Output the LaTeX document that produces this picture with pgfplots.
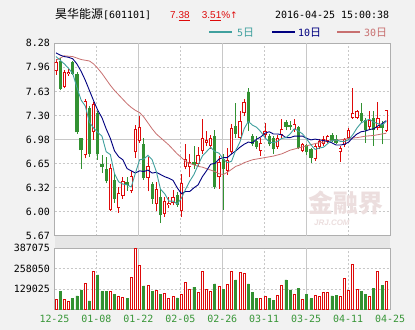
\documentclass[border=0pt]{standalone}
\usepackage{fontspec}
\usepackage{pgfplots}
\usepackage{pgfplotstable}
\pgfplotsset{compat=1.18}
\newfontfamily\cjk{Noto Sans CJK SC}
\newfontfamily\mono{DejaVu Sans Mono}
\newfontfamily\lsans{Liberation Sans}
\newfontfamily\djv{DejaVu Sans}
\definecolor{bgc}{RGB}{242,242,242}
\definecolor{bandc}{RGB}{230,230,230}
\definecolor{cred}{RGB}{222,10,10}
\definecolor{cgreen}{RGB}{50,145,50}
\definecolor{ma5c}{RGB}{64,160,158}
\definecolor{ma10c}{RGB}{0,0,128}
\definecolor{ma30c}{RGB}{200,112,112}
\definecolor{datec}{RGB}{56,150,56}
\definecolor{gridc}{RGB}{200,200,200}
\definecolor{bordc}{RGB}{175,175,175}
\definecolor{wmc}{RGB}{236,222,222}

\pgfplotstableread{
i o h l c v
0 7.91 8.07 7.85 8.02 65600
2 7.69 7.92 7.67 7.89 63000
3 7.86 7.93 7.84 7.89 53000
7 6.76 7.52 6.72 7.50 167000
9 7.08 7.49 6.97 7.46 243000
13 6.02 6.64 6.01 6.59 112000
15 6.04 6.33 5.98 6.25 85000
16 6.21 6.47 6.17 6.41 76000
18 6.27 6.55 6.25 6.48 203000
19 6.80 7.17 6.73 7.12 387000
20 6.96 7.30 6.93 7.15 281000
22 6.45 6.74 6.27 6.61 154000
24 6.10 6.40 6.00 6.31 123000
26 5.97 6.19 5.93 6.14 104000
27 6.08 6.20 6.04 6.11 70000
28 6.11 6.29 6.08 6.20 82000
30 6.00 6.51 5.93 6.38 97000
31 6.60 6.91 6.57 6.71 171000
32 6.60 6.78 6.46 6.67 127000
34 6.64 6.87 6.60 6.76 110000
35 6.82 7.25 6.78 7.00 243000
36 6.93 7.09 6.88 6.97 125000
37 6.89 7.04 6.85 7.00 116000
39 6.46 6.75 6.31 6.67 148000
41 6.55 6.86 6.50 6.70 161000
42 6.80 7.18 6.78 7.13 243000
44 7.00 7.36 6.98 7.22 237000
45 7.33 7.52 7.30 7.49 230000
49 6.82 7.00 6.75 6.93 66000
50 7.04 7.20 7.00 7.09 82000
53 6.87 7.04 6.85 7.00 89000
54 7.04 7.25 7.00 7.12 152000
57 7.11 7.25 7.08 7.18 97000
59 6.82 6.93 6.80 6.91 63000
62 6.71 6.92 6.69 6.89 89000
63 6.87 6.98 6.84 6.96 85000
64 6.91 7.02 6.89 6.98 110000
65 6.96 7.04 6.93 7.02 110000
68 6.80 6.89 6.67 6.86 85000
69 6.90 7.00 6.87 6.98 197000
70 6.99 7.13 6.97 7.11 123000
71 7.27 7.67 7.25 7.33 286000
72 7.27 7.38 7.25 7.36 127000
75 7.14 7.36 7.10 7.24 82000
77 7.13 7.48 7.10 7.27 243000
79 7.09 7.38 7.07 7.38 180000
}\redtab

\pgfplotstableread{
i o h l c v
1 8.04 8.08 7.64 7.66 116000
4 8.02 8.04 7.85 7.87 66000
5 7.86 7.89 7.05 7.07 85000
6 6.99 7.00 6.58 6.83 123000
8 7.40 7.43 6.74 6.78 53000
10 7.34 7.36 6.70 6.78 218000
11 6.64 6.77 6.52 6.60 112000
12 6.58 6.74 6.38 6.41 112000
14 6.42 6.52 6.12 6.17 97000
17 6.40 6.47 6.28 6.36 66000
21 6.92 7.00 6.43 6.45 148000
23 6.37 6.40 6.10 6.17 116000
25 6.20 6.30 5.84 5.95 97000
29 6.22 6.26 6.06 6.09 72000
33 6.67 6.89 6.58 6.63 140000
38 7.02 7.11 6.31 6.33 161000
40 6.71 6.78 6.02 6.58 127000
43 7.16 7.47 7.00 7.05 186000
46 7.62 7.68 7.09 7.20 161000
47 7.02 7.05 6.88 6.91 106000
48 6.96 7.02 6.84 6.87 68000
51 7.02 7.05 6.88 6.91 66000
52 7.00 7.02 6.78 6.84 55000
55 7.21 7.24 7.10 7.15 186000
56 7.17 7.22 7.11 7.14 123000
58 7.14 7.16 6.84 6.86 135000
60 6.90 6.92 6.76 6.80 97000
61 6.84 6.86 6.66 6.73 66000
66 7.03 7.06 6.94 6.96 85000
67 6.98 7.04 6.91 6.93 89000
73 7.34 7.47 7.20 7.22 114000
74 7.24 7.27 6.93 7.11 97000
76 7.27 7.36 6.89 7.10 135000
78 7.18 7.22 6.91 7.13 154000
}\greentab

\pgfplotsset{
  kbase/.style={
    scale only axis, xmin=-0.36, xmax=79.9,
    axis line style={draw=bordc, line width=0.8bp},
    axis background/.style={fill=white},
    major tick length=0pt,
    grid=major,
    grid style={draw=gridc, line width=0.7bp, dash pattern=on 2bp off 2bp},
    extra x tick style={grid style={solid}},
    extra y tick style={grid style={solid}},
    tick label style={font=\mono\fontsize{10}{10}\selectfont, text=black, inner sep=0pt},
    yticklabel style={xshift=-4.5bp},
    scaled y ticks=false,
  },
  seg/.style 2 args={draw=none, mark=none, mark size=0pt, forget plot,
    error bars/.cd, y dir=plus, y explicit, error mark=none,
    error bar style={draw=#1, line width=#2, solid}},
}

\begin{document}
\begin{tikzpicture}
\fill[bgc] (0,0) rectangle (415bp,330bp);
\path[use as bounding box] (0,0) rectangle (415bp,330bp);
\fill[bandc] (54.5bp,82bp) rectangle (390bp,94.3bp);

% header
\node[anchor=base west, inner sep=0pt] at (55bp,311.5bp) {\cjk\fontsize{12}{12}\selectfont 昊华能源\mono\fontsize{10}{10}\selectfont[601101]};
\node[anchor=base west, inner sep=0pt, text=cred] at (170bp,311.5bp) {\lsans\fontsize{10}{10}\selectfont 7.\underline{38}};
\node[anchor=base west, inner sep=0pt, text=cred] at (201.7bp,311.5bp) {\lsans\fontsize{10}{10}\selectfont 3.\underline{51}\%{\djv\fontsize{9}{9}\selectfont ↑}};
\node[anchor=base west, inner sep=0pt] at (275bp,311.5bp) {\mono\fontsize{10}{10}\selectfont 2016-04-25 15:00:38};
% legend
\draw[ma5c, line width=1.2bp] (209bp,298bp) -- (232bp,298bp);
\node[anchor=base west, inner sep=0pt, text=ma5c] at (237bp,293.5bp) {\mono\fontsize{10}{10}\selectfont 5\cjk\fontsize{11}{11}\selectfont 日};
\draw[ma10c, line width=1.2bp] (272bp,298bp) -- (295bp,298bp);
\node[anchor=base west, inner sep=0pt, text=ma10c] at (298bp,293.5bp) {\mono\fontsize{10}{10}\selectfont 10\cjk\fontsize{11}{11}\selectfont 日};
\draw[ma30c, line width=1.2bp] (337bp,298bp) -- (360bp,298bp);
\node[anchor=base west, inner sep=0pt, text=ma30c] at (364bp,293.5bp) {\mono\fontsize{10}{10}\selectfont 30\cjk\fontsize{11}{11}\selectfont 日};

% price panel
\begin{axis}[kbase,
  at={(54.5bp,94.3bp)}, anchor=south west,
  width=335.5bp, height=192.4bp,
  ymin=5.67, ymax=8.28,
  xtick={9.6725,29.7375,49.8025,69.8675}, xticklabels={},
  extra x ticks={19.705,39.77,59.835}, extra x tick labels={},
  ytick={5.67,5.99625,6.3225,6.64875,7.30125,7.6275,7.95375,8.28},
  yticklabels={5.67,6.00,6.32,6.65,7.30,7.63,7.96,8.28},
  extra y ticks={6.975}, extra y tick labels={6.98},
]
\node[text=wmc, inner sep=0pt] at (axis cs:69.3,6.11) {\cjk\bfseries\fontsize{25}{25}\selectfont 金融界};
\node[text=wmc, inner sep=0pt] at (axis cs:66.0,5.84) {\lsans\bfseries\itshape\fontsize{8}{8}\selectfont JRJ.COM};
% wicks
\addplot[seg={cred}{0.8bp}] table[x=i, y=l, y error expr=\thisrow{h}-\thisrow{l}] {\redtab};
\addplot[seg={cgreen}{0.8bp}] table[x=i, y=l, y error expr=\thisrow{h}-\thisrow{l}] {\greentab};
% bodies
\addplot[seg={cred}{3.3bp}] table[x=i, y=o, y error expr=\thisrow{c}-\thisrow{o}] {\redtab};
\addplot[seg={white}{1.6bp}] table[x=i, y expr=\thisrow{o}+0.0136, y error expr=\thisrow{c}-\thisrow{o}-0.0272] {\redtab};
\addplot[seg={cgreen}{3.2bp}] table[x=i, y=c, y error expr=\thisrow{o}-\thisrow{c}] {\greentab};
% moving averages
\addplot[ma30c, line width=0.8bp, mark=none] coordinates {(0,8.05)(2,8.11)(4,8.10)(6,8.06)(8,8.04)(9,8.00)(10,7.94)(11,7.87)(12,7.79)(13,7.71)(14,7.64)(15,7.58)(16,7.52)(17,7.46)(18,7.41)(19,7.37)(20,7.34)(21,7.28)(22,7.20)(23,7.12)(24,7.05)(25,7.00)(26,6.95)(27,6.90)(28,6.84)(29,6.78)(30,6.73)(31,6.68)(32,6.65)(33,6.63)(34,6.61)(35,6.60)(36,6.58)(37,6.56)(38,6.54)(39,6.51)(40,6.50)(41,6.53)(42,6.57)(43,6.61)(44,6.63)(45,6.66)(46,6.68)(47,6.70)(48,6.71)(49,6.72)(50,6.73)(52,6.75)(54,6.78)(56,6.83)(58,6.86)(60,6.89)(62,6.92)(64,6.94)(66,6.96)(68,6.97)(70,6.99)(72,7.00)(74,7.02)(76,7.03)(78,7.05)(79,7.06)};
\addplot[ma10c, line width=0.9bp, mark=none] coordinates {(0,8.15)(1,8.12)(2,8.10)(3,8.09)(4,8.07)(5,8.00)(6,7.90)(7,7.78)(8,7.64)(9,7.50)(10,7.37)(11,7.27)(12,7.12)(13,6.99)(14,6.82)(15,6.74)(16,6.70)(17,6.58)(18,6.55)(19,6.52)(20,6.55)(21,6.54)(22,6.56)(23,6.52)(24,6.53)(25,6.50)(26,6.47)(27,6.45)(28,6.42)(29,6.32)(30,6.24)(31,6.27)(32,6.27)(33,6.32)(34,6.36)(35,6.47)(36,6.55)(37,6.64)(38,6.65)(39,6.71)(40,6.73)(41,6.73)(42,6.78)(43,6.82)(44,6.87)(45,6.91)(46,6.94)(47,6.93)(48,6.98)(49,7.01)(50,7.06)(51,7.08)(52,7.05)(53,7.05)(54,7.04)(55,7.00)(56,7.00)(57,7.02)(58,7.02)(59,7.02)(60,6.99)(61,6.97)(62,6.98)(63,6.97)(64,6.96)(65,6.95)(66,6.93)(67,6.90)(68,6.90)(69,6.91)(70,6.94)(71,7.00)(72,7.05)(73,7.08)(74,7.09)(75,7.11)(76,7.12)(77,7.16)(78,7.19)(79,7.23)};
\addplot[ma5c, line width=0.9bp, mark=none] coordinates {(0,8.10)(1,8.05)(2,8.00)(3,7.94)(4,7.87)(5,7.68)(6,7.51)(7,7.43)(8,7.21)(9,7.13)(10,7.07)(11,7.02)(12,6.81)(13,6.77)(14,6.51)(15,6.40)(16,6.37)(17,6.36)(18,6.33)(19,6.52)(20,6.70)(21,6.71)(22,6.76)(23,6.70)(24,6.54)(25,6.30)(26,6.24)(27,6.14)(28,6.14)(29,6.10)(30,6.18)(31,6.30)(32,6.41)(33,6.50)(34,6.63)(35,6.75)(36,6.81)(37,6.87)(38,6.81)(39,6.79)(40,6.71)(41,6.66)(42,6.68)(43,6.83)(44,6.94)(45,7.12)(46,7.22)(47,7.17)(48,7.14)(49,7.08)(50,7.00)(51,6.94)(52,6.93)(53,6.95)(54,6.99)(55,7.00)(56,7.05)(57,7.12)(58,7.09)(59,7.05)(60,6.98)(61,6.90)(62,6.84)(63,6.86)(64,6.87)(65,6.92)(66,6.96)(67,6.97)(68,6.95)(69,6.95)(70,6.97)(71,7.04)(72,7.13)(73,7.20)(74,7.23)(75,7.25)(76,7.21)(77,7.19)(78,7.17)(79,7.22)};
\end{axis}

% volume panel
\begin{axis}[kbase,
  at={(54.5bp,20.7bp)}, anchor=south west,
  width=335.5bp, height=61bp,
  ymin=0, ymax=387075,
  xtick={-0.36,9.6725,29.7375,49.8025,69.8675,79.9},
  xticklabels={12-25,01-08,02-05,03-11,04-11,04-25},
  extra x ticks={19.705,39.77,59.835}, extra x tick labels={01-22,02-26,03-25},
  xticklabel style={text=datec, yshift=-5.7bp},
  ytick={129025,258050,387075}, yticklabels={129025,258050,387075},
]
\addplot[ybar, bar width=2.0bp, bar shift=0pt, draw=cred, fill=white, line width=0.8bp, forget plot] table[x=i, y=v] {\redtab};
\addplot[ybar, bar width=2.0bp, bar shift=0pt, draw=cgreen, fill=cgreen, line width=0.8bp, forget plot] table[x=i, y=v] {\greentab};
\end{axis}
\end{tikzpicture}
\end{document}
